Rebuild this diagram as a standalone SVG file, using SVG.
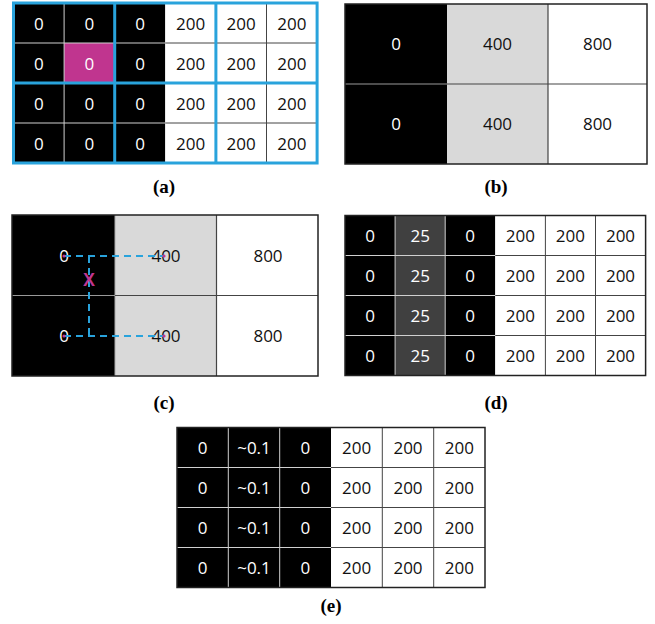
<svg xmlns="http://www.w3.org/2000/svg" width="655" height="624" viewBox="0 0 655 624">
<style>
text{font-family:"Open Sans","Liberation Sans",sans-serif;font-size:17px;text-anchor:middle}
.big{font-size:18px}
.w{fill:#fff}.k{fill:#111}
.bk{fill:#000}.wh{fill:#fff}.gr{fill:#d9d9d9}.dg{fill:#404040}
.ll{stroke:#d0d0d0;stroke-width:1}
.dl{stroke:#444;stroke-width:1}
.blue{stroke:#29a3dc;stroke-width:3;fill:none}
.frame{fill:none;stroke:#222;stroke-width:1.5}
.lbl{font-family:"Liberation Serif",serif;font-weight:bold;font-size:19px;fill:#000}
.dash{stroke:#29a3dc;stroke-width:2;stroke-dasharray:7,5;fill:none}
.dot{fill:#c0358f}
</style>
<rect width="655" height="624" fill="#fff"/>

<!-- Panel (a) -->
<g id="panel-a">
<rect x="13.5" y="3" width="151.8" height="160" class="bk"/>
<rect x="165.3" y="3" width="151.8" height="160" class="wh"/>
<rect x="64.1" y="43" width="50.6" height="40" fill="#c0358f"/>
<g class="ll">
<line x1="64.1" y1="3" x2="64.1" y2="163"/>
<line x1="13.5" y1="43" x2="165.3" y2="43"/>
<line x1="13.5" y1="123" x2="165.3" y2="123"/>
</g>
<g class="dl">
<line x1="266.5" y1="3" x2="266.5" y2="163"/>
<line x1="165.3" y1="43" x2="317.1" y2="43"/>
<line x1="165.3" y1="123" x2="317.1" y2="123"/>
</g>
<g class="blue">
<rect x="13.5" y="3" width="303.6" height="160"/>
<line x1="114.7" y1="3" x2="114.7" y2="163"/>
<line x1="215.9" y1="3" x2="215.9" y2="163"/>
<line x1="13.5" y1="83" x2="317.1" y2="83"/>
</g>
<g class="w big">
<text x="38.8" y="29.5">0</text><text x="89.4" y="29.5">0</text><text x="140" y="29.5">0</text>
<text x="38.8" y="69.5">0</text><text x="89.4" y="69.5">0</text><text x="140" y="69.5">0</text>
<text x="38.8" y="109.5">0</text><text x="89.4" y="109.5">0</text><text x="140" y="109.5">0</text>
<text x="38.8" y="149.5">0</text><text x="89.4" y="149.5">0</text><text x="140" y="149.5">0</text>
</g>
<g class="k big">
<text x="190.6" y="29.5">200</text><text x="241.2" y="29.5">200</text><text x="291.8" y="29.5">200</text>
<text x="190.6" y="69.5">200</text><text x="241.2" y="69.5">200</text><text x="291.8" y="69.5">200</text>
<text x="190.6" y="109.5">200</text><text x="241.2" y="109.5">200</text><text x="291.8" y="109.5">200</text>
<text x="190.6" y="149.5">200</text><text x="241.2" y="149.5">200</text><text x="291.8" y="149.5">200</text>
</g>
<text class="lbl" x="164" y="193">(a)</text>
</g>

<!-- Panel (b) -->
<g id="panel-b">
<rect x="345" y="4" width="102" height="160" class="bk"/>
<rect x="447" y="4" width="101" height="160" class="gr"/>
<rect x="548" y="4" width="99" height="160" class="wh"/>
<line x1="345" y1="84" x2="447" y2="84" stroke="#999" stroke-width="1.2"/>
<line x1="447" y1="84" x2="647" y2="84" stroke="#444" stroke-width="1.2"/>
<line x1="548" y1="4" x2="548" y2="164" stroke="#444" stroke-width="1.2"/>
<rect x="345" y="4" width="302" height="160" class="frame"/>
<text class="w" x="396" y="50">0</text><text class="k" x="497.5" y="50">400</text><text class="k" x="597.5" y="50">800</text>
<text class="w" x="396" y="130">0</text><text class="k" x="497.5" y="130">400</text><text class="k" x="597.5" y="130">800</text>
<text class="lbl" x="496" y="193">(b)</text>
</g>

<!-- Panel (c) -->
<g id="panel-c">
<rect x="12" y="215" width="103" height="161" class="bk"/>
<rect x="115" y="215" width="101.5" height="161" class="gr"/>
<rect x="216.5" y="215" width="101.5" height="161" class="wh"/>
<line x1="115" y1="215" x2="115" y2="376" stroke="#aaa" stroke-width="1"/>
<line x1="12" y1="295.5" x2="115" y2="295.5" stroke="#999" stroke-width="1.2"/>
<line x1="115" y1="295.5" x2="318" y2="295.5" stroke="#444" stroke-width="1.2"/>
<line x1="216.5" y1="215" x2="216.5" y2="376" stroke="#444" stroke-width="1.2"/>
<rect x="12" y="215" width="306" height="161" class="frame"/>
<text class="w" x="64" y="262">0</text><text class="k" x="166" y="262">400</text><text class="k" x="268" y="262">800</text>
<text class="w" x="64" y="342">0</text><text class="k" x="166" y="342">400</text><text class="k" x="268" y="342">800</text>
<text class="lbl" x="164" y="409">(c)</text>
</g>

<!-- Panel (d) -->
<g id="panel-d">
<rect x="345" y="215.5" width="150.3" height="160" class="bk"/>
<rect x="395.1" y="215.5" width="50.1" height="160" class="dg"/>
<rect x="495.3" y="215.5" width="150.3" height="160" class="wh"/>
<g class="ll">
<line x1="395.1" y1="215.5" x2="395.1" y2="375.5"/>
<line x1="445.2" y1="215.5" x2="445.2" y2="375.5"/>
<line x1="345" y1="255.5" x2="495.3" y2="255.5"/>
<line x1="345" y1="295.5" x2="495.3" y2="295.5"/>
<line x1="345" y1="335.5" x2="495.3" y2="335.5"/>
</g>
<g class="dl">
<line x1="545.4" y1="215.5" x2="545.4" y2="375.5"/>
<line x1="595.5" y1="215.5" x2="595.5" y2="375.5"/>
<line x1="495.3" y1="255.5" x2="645.6" y2="255.5"/>
<line x1="495.3" y1="295.5" x2="645.6" y2="295.5"/>
<line x1="495.3" y1="335.5" x2="645.6" y2="335.5"/>
</g>
<rect x="345" y="215.5" width="300.6" height="160" class="frame"/>
<g class="w">
<text x="370" y="241.5">0</text><text x="420.2" y="241.5">25</text><text x="470.2" y="241.5">0</text>
<text x="370" y="281.5">0</text><text x="420.2" y="281.5">25</text><text x="470.2" y="281.5">0</text>
<text x="370" y="321.5">0</text><text x="420.2" y="321.5">25</text><text x="470.2" y="321.5">0</text>
<text x="370" y="361.5">0</text><text x="420.2" y="361.5">25</text><text x="470.2" y="361.5">0</text>
</g>
<g class="k">
<text x="520.4" y="241.5">200</text><text x="570.4" y="241.5">200</text><text x="620.5" y="241.5">200</text>
<text x="520.4" y="281.5">200</text><text x="570.4" y="281.5">200</text><text x="620.5" y="281.5">200</text>
<text x="520.4" y="321.5">200</text><text x="570.4" y="321.5">200</text><text x="620.5" y="321.5">200</text>
<text x="520.4" y="361.5">200</text><text x="570.4" y="361.5">200</text><text x="620.5" y="361.5">200</text>
</g>
<text class="lbl" x="496" y="409">(d)</text>
</g>

<!-- Panel (e) -->
<g id="panel-e">
<rect x="177" y="427.5" width="154" height="160" class="bk"/>
<rect x="331" y="427.5" width="154" height="160" class="wh"/>
<g class="ll">
<line x1="228.3" y1="427.5" x2="228.3" y2="587.5"/>
<line x1="279.7" y1="427.5" x2="279.7" y2="587.5"/>
<line x1="177" y1="467.5" x2="331" y2="467.5"/>
<line x1="177" y1="507.5" x2="331" y2="507.5"/>
<line x1="177" y1="547.5" x2="331" y2="547.5"/>
</g>
<g class="dl">
<line x1="382.3" y1="427.5" x2="382.3" y2="587.5"/>
<line x1="433.7" y1="427.5" x2="433.7" y2="587.5"/>
<line x1="331" y1="467.5" x2="485" y2="467.5"/>
<line x1="331" y1="507.5" x2="485" y2="507.5"/>
<line x1="331" y1="547.5" x2="485" y2="547.5"/>
</g>
<rect x="177" y="427.5" width="308" height="160" class="frame"/>
<g class="w">
<text x="202.7" y="453.5">0</text><text x="254" y="453.5">~0.1</text><text x="305.3" y="453.5">0</text>
<text x="202.7" y="493.5">0</text><text x="254" y="493.5">~0.1</text><text x="305.3" y="493.5">0</text>
<text x="202.7" y="533.5">0</text><text x="254" y="533.5">~0.1</text><text x="305.3" y="533.5">0</text>
<text x="202.7" y="573.5">0</text><text x="254" y="573.5">~0.1</text><text x="305.3" y="573.5">0</text>
</g>
<g class="k">
<text x="356.7" y="453.5">200</text><text x="408" y="453.5">200</text><text x="459.3" y="453.5">200</text>
<text x="356.7" y="493.5">200</text><text x="408" y="493.5">200</text><text x="459.3" y="493.5">200</text>
<text x="356.7" y="533.5">200</text><text x="408" y="533.5">200</text><text x="459.3" y="533.5">200</text>
<text x="356.7" y="573.5">200</text><text x="408" y="573.5">200</text><text x="459.3" y="573.5">200</text>
</g>
<text class="lbl" x="331" y="612">(e)</text>
</g>

<!-- Connectors (interpolation paths in panel c) -->
<g id="connectors">
<line class="dash" x1="64" y1="256" x2="164" y2="256"/>
<line class="dash" x1="64" y1="336" x2="164" y2="336"/>
<line class="dash" x1="89" y1="256" x2="89" y2="336"/>
<circle class="dot" cx="64" cy="256" r="1.6"/>
<circle class="dot" cx="164" cy="256" r="1.6"/>
<circle class="dot" cx="64" cy="336" r="1.6"/>
<circle class="dot" cx="164" cy="336" r="1.6"/>
<text x="89" y="285.5" style="font-family:'Liberation Sans',sans-serif;font-weight:bold;font-size:18px;fill:#c0358f">X</text>
</g>
</svg>
